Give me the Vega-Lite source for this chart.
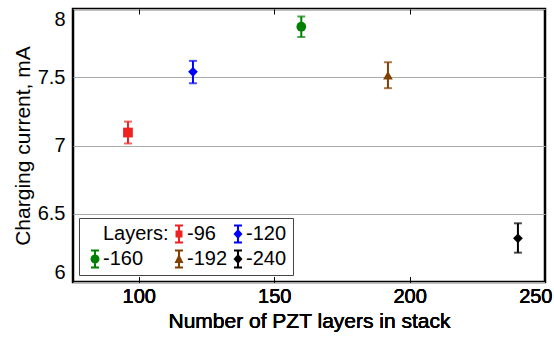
{
  "$schema": "https://vega.github.io/schema/vega-lite/v6.json",
  "width": 472,
  "height": 273,
  "autosize": "none",
  "padding": {"left": 73, "top": 9, "right": 9, "bottom": 56},
  "background": "white",
  "config": {
    "font": "Liberation Sans",
    "view": {"stroke": "black", "strokeWidth": 2.5},
    "axis": {"labelFont": "Liberation Sans", "titleFont": "Liberation Sans", "labelColor": "black", "titleColor": "black", "titleFontWeight": "normal", "domain": false}
  },
  "data": {
    "values": [
      {"n": 96, "current": 7.095, "lo": 7.015, "hi": 7.175, "series": "96"},
      {"n": 120, "current": 7.54, "lo": 7.456, "hi": 7.62, "series": "120"},
      {"n": 160, "current": 7.87, "lo": 7.795, "hi": 7.945, "series": "160"},
      {"n": 192, "current": 7.515, "lo": 7.42, "hi": 7.61, "series": "192"},
      {"n": 240, "current": 6.32, "lo": 6.215, "hi": 6.43, "series": "240"}
    ]
  },
  "encoding": {
    "x": {"field": "n", "type": "quantitative", "title": "Number of PZT layers in stack",
      "scale": {"domain": [75.7, 250], "nice": false, "zero": false},
      "axis": {"orient": "bottom", "values": [100, 150, 200, 250], "offset": -5, "tickSize": 5, "tickColor": "black", "tickWidth": 1, "grid": false, "labelFontSize": 20, "titleFontSize": 21, "labelPadding": 4, "titlePadding": 4, "labelFlush": true, "labelFlushOffset": 7}}
  },
  "resolve": {"scale": {"shape": "independent"}, "legend": {"color": "independent", "shape": "independent"}},
  "layer": [
    {
      "mark": {"type": "rule", "strokeWidth": 2},
      "encoding": {
        "x": {"field": "n", "type": "quantitative",
          "axis": {"orient": "top", "values": [100, 150, 200], "labels": false, "offset": -5, "tickSize": 5, "tickColor": "black", "tickWidth": 1, "grid": false, "title": null}},
        "y": {"field": "lo", "type": "quantitative", "title": "Charging current, mA", "scale": {"domain": [6, 8], "nice": false, "zero": false},
          "axis": {"values": [6, 6.5, 7, 7.5, 8], "format": "~g", "ticks": false, "grid": true, "gridColor": "#aaaaaa", "gridWidth": 1, "labelFontSize": 20, "titleFontSize": 21, "labelPadding": 8, "titlePadding": 4, "labelFlush": true}},
        "y2": {"field": "hi"},
        "color": {"field": "series", "type": "nominal", "legend": null,
          "scale": {"domain": ["Layers:", "96", "120", "160", "192", "240"], "range": ["#ffffff", "#ee2222", "#0000ff", "#008000", "#804000", "#000000"]}}
      }
    },
    {
      "mark": {"type": "tick", "orient": "horizontal", "size": 8, "thickness": 2},
      "encoding": {
        "y": {"field": "lo", "type": "quantitative", "title": "Charging current, mA",
          "axis": {"values": [6, 6.5, 7, 7.5, 8], "format": "~g", "ticks": false, "grid": true, "gridColor": "#aaaaaa", "gridWidth": 1, "labelFontSize": 20, "titleFontSize": 21, "labelPadding": 8, "titlePadding": 4, "labelFlush": true}},
        "color": {"field": "series", "type": "nominal", "legend": null}
      }
    },
    {
      "mark": {"type": "tick", "orient": "horizontal", "size": 8, "thickness": 2},
      "encoding": {
        "y": {"field": "hi", "type": "quantitative", "title": "Charging current, mA",
          "axis": {"values": [6, 6.5, 7, 7.5, 8], "format": "~g", "ticks": false, "grid": true, "gridColor": "#aaaaaa", "gridWidth": 1, "labelFontSize": 20, "titleFontSize": 21, "labelPadding": 8, "titlePadding": 4, "labelFlush": true}},
        "color": {"field": "series", "type": "nominal", "legend": null}
      }
    },
    {
      "mark": {"type": "point", "filled": true, "opacity": 1, "size": 95},
      "encoding": {
        "y": {"field": "current", "type": "quantitative", "title": "Charging current, mA",
          "axis": {"values": [6, 6.5, 7, 7.5, 8], "format": "~g", "ticks": false, "grid": true, "gridColor": "#aaaaaa", "gridWidth": 1, "labelFontSize": 20, "titleFontSize": 21, "labelPadding": 8, "titlePadding": 4, "labelFlush": true}},
        "color": {"field": "series", "type": "nominal", "legend": null},
        "shape": {"field": "series", "type": "nominal", "legend": null,
          "scale": {"domain": ["Layers:", "96", "120", "160", "192", "240"], "range": ["circle", "square", "diamond", "circle", "triangle-up", "diamond"]}}
      }
    },
    {
      "mark": {"type": "point", "filled": true, "opacity": 1, "size": 0},
      "encoding": {
        "y": {"field": "current", "type": "quantitative", "title": "Charging current, mA",
          "axis": {"values": [6, 6.5, 7, 7.5, 8], "format": "~g", "ticks": false, "grid": true, "gridColor": "#aaaaaa", "gridWidth": 1, "labelFontSize": 20, "titleFontSize": 21, "labelPadding": 8, "titlePadding": 4, "labelFlush": true}},
        "color": {"field": "series", "type": "nominal",
          "legend": {
            "title": null, "orient": "none", "legendX": 6, "legendY": 209, "direction": "horizontal", "columns": 3,
            "strokeColor": "#444444", "fillColor": "white", "padding": 6, "columnPadding": -5, "rowPadding": 5,
            "symbolSize": 144, "symbolStrokeWidth": 0, "labelFontSize": 20, "labelFont": "Liberation Sans", "labelColor": "black", "labelOffset": -2, "labelLimit": 200,
            "labelExpr": "datum.value === 'Layers:' ? 'Layers:' : '-' + datum.value"
          }},
        "shape": {"field": "series", "type": "nominal",
          "legend": {"title": null},
          "scale": {"domain": ["Layers:", "96", "120", "160", "192", "240"],
            "range": [
              "M0,0Z",
              "M-0.58,-0.58H0.58V0.58H-0.58ZM-0.17,-1.58H0.17V1.58H-0.17ZM-0.67,-1.58H0.67V-1.25H-0.67ZM-0.67,1.25H0.67V1.58H-0.67Z",
              "M0,-0.83L0.75,0L0,0.83L-0.75,0ZM-0.17,-1.58H0.17V1.58H-0.17ZM-0.67,-1.58H0.67V-1.25H-0.67ZM-0.67,1.25H0.67V1.58H-0.67Z",
              "M-0.75,0A0.75,0.75 0 0,1 0.75,0A0.75,0.75 0 0,1 -0.75,0ZM-0.17,-1.58H0.17V1.58H-0.17ZM-0.67,-1.58H0.67V-1.25H-0.67ZM-0.67,1.25H0.67V1.58H-0.67Z",
              "M0,-0.83L0.75,0.67H-0.75ZM-0.17,-1.58H0.17V1.58H-0.17ZM-0.67,-1.58H0.67V-1.25H-0.67ZM-0.67,1.25H0.67V1.58H-0.67Z",
              "M0,-0.83L0.75,0L0,0.83L-0.75,0ZM-0.17,-1.58H0.17V1.58H-0.17ZM-0.67,-1.58H0.67V-1.25H-0.67ZM-0.67,1.25H0.67V1.58H-0.67Z"
            ]}}
      }
    }
  ]
}
